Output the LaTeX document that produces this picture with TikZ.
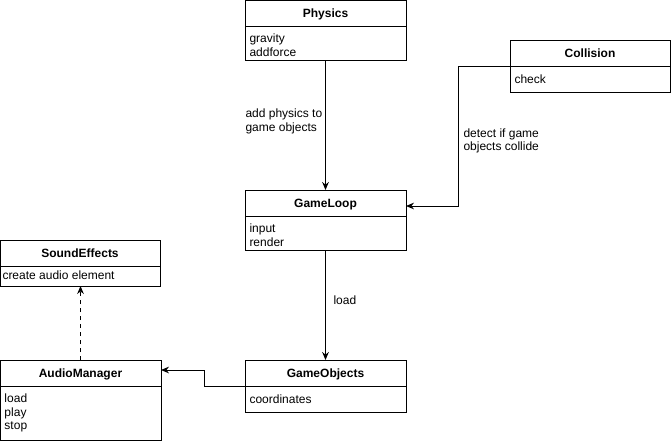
\documentclass[tikz,border=0pt]{standalone}
\usepackage{fontspec}
\setmainfont{Liberation Sans}
\usetikzlibrary{arrows.meta}
\begin{document}
\begin{tikzpicture}[x=0.75pt,y=-0.75pt,line width=0.75pt,
  font=\fontsize{9}{10.2}\selectfont,
  hdr/.style={draw,anchor=north west,inner sep=0pt,outer sep=0pt,minimum height=19.5pt,text depth=0pt,font=\fontsize{9}{10.2}\selectfont\bfseries},
  bdy/.style={draw,anchor=north west,inner sep=0pt,outer sep=0pt},
  btxt/.style={anchor=north west,inner sep=0pt,align=left},
  lbl/.style={anchor=west,inner sep=0pt,align=left},
  arr/.style={-{Stealth[length=6pt,width=5pt]}},
  dsh/.style={arr,dash pattern=on 3pt off 3pt}]
\useasboundingbox (0,0) rectangle (671,444);
% Physics
\node[hdr,minimum width=120.75pt] (phyH) at (245,0) {Physics};
\node[bdy,minimum width=120.75pt,minimum height=25.5pt] (phyB) at (phyH.south west) {};
\node[btxt] (phyT) at ([xshift=3pt,yshift=-5.8pt]phyB.north west) {gravity\\addforce};
% Collision
\node[hdr,minimum width=120pt] (colH) at (510,40) {Collision};
\node[bdy,minimum width=120pt,minimum height=19.5pt] (colB) at (colH.south west) {};
\node[btxt] (colT) at ([xshift=3pt,yshift=-6pt]colB.north west) {check};
% GameLoop
\node[hdr,minimum width=120.75pt] (loopH) at (245,190) {GameLoop};
\node[bdy,minimum width=120.75pt,minimum height=25.5pt] (loopB) at (loopH.south west) {};
\node[btxt] (loopT) at ([xshift=3pt,yshift=-5.5pt]loopB.north west) {input\\render};
% SoundEffects
\node[hdr,minimum width=120pt] (sndH) at (0,240) {SoundEffects};
\node[bdy,minimum width=120pt,minimum height=15pt] (sndB) at (sndH.south west) {};
\node[btxt] (sndT) at ([xshift=1.5pt,yshift=-3pt]sndB.north west) {create audio element};
% AudioManager
\node[hdr,minimum width=120.75pt] (audH) at (0,360) {AudioManager};
\node[bdy,minimum width=120.75pt,minimum height=40.5pt] (audB) at (audH.south west) {};
\node[btxt] (audT) at ([xshift=3pt,yshift=-5.5pt]audB.north west) {load\\play\\stop};
% GameObjects
\node[hdr,minimum width=120.75pt] (objH) at (245,360) {GameObjects};
\node[bdy,minimum width=120.75pt,minimum height=19.5pt] (objB) at (objH.south west) {};
\node[btxt] (objT) at ([xshift=3pt,yshift=-6pt]objB.north west) {coordinates};
% connectors
\draw[arr] (phyB.south) -- (loopH.north);
\node[lbl] (l1) at (245,121.5) {add physics to\\game objects};
\coordinate (c1) at (458,66);
\draw[arr] (colH.south west) -- (c1) |- ([yshift=-2.25pt]loopH.east);
\node[lbl] (l2) at (463,141) {detect if game\\objects collide};
\draw[arr] (loopB.south) -- (objH.north);
\node[lbl] (l3) at (333,300) {load};
\coordinate (k1) at (204,370);
\draw[arr] (objH.south west) -| (k1) -- (audH.east |- k1);
\draw[dsh] (audH.north) -- (audH.north |- sndB.south);
\end{tikzpicture}
\end{document}
